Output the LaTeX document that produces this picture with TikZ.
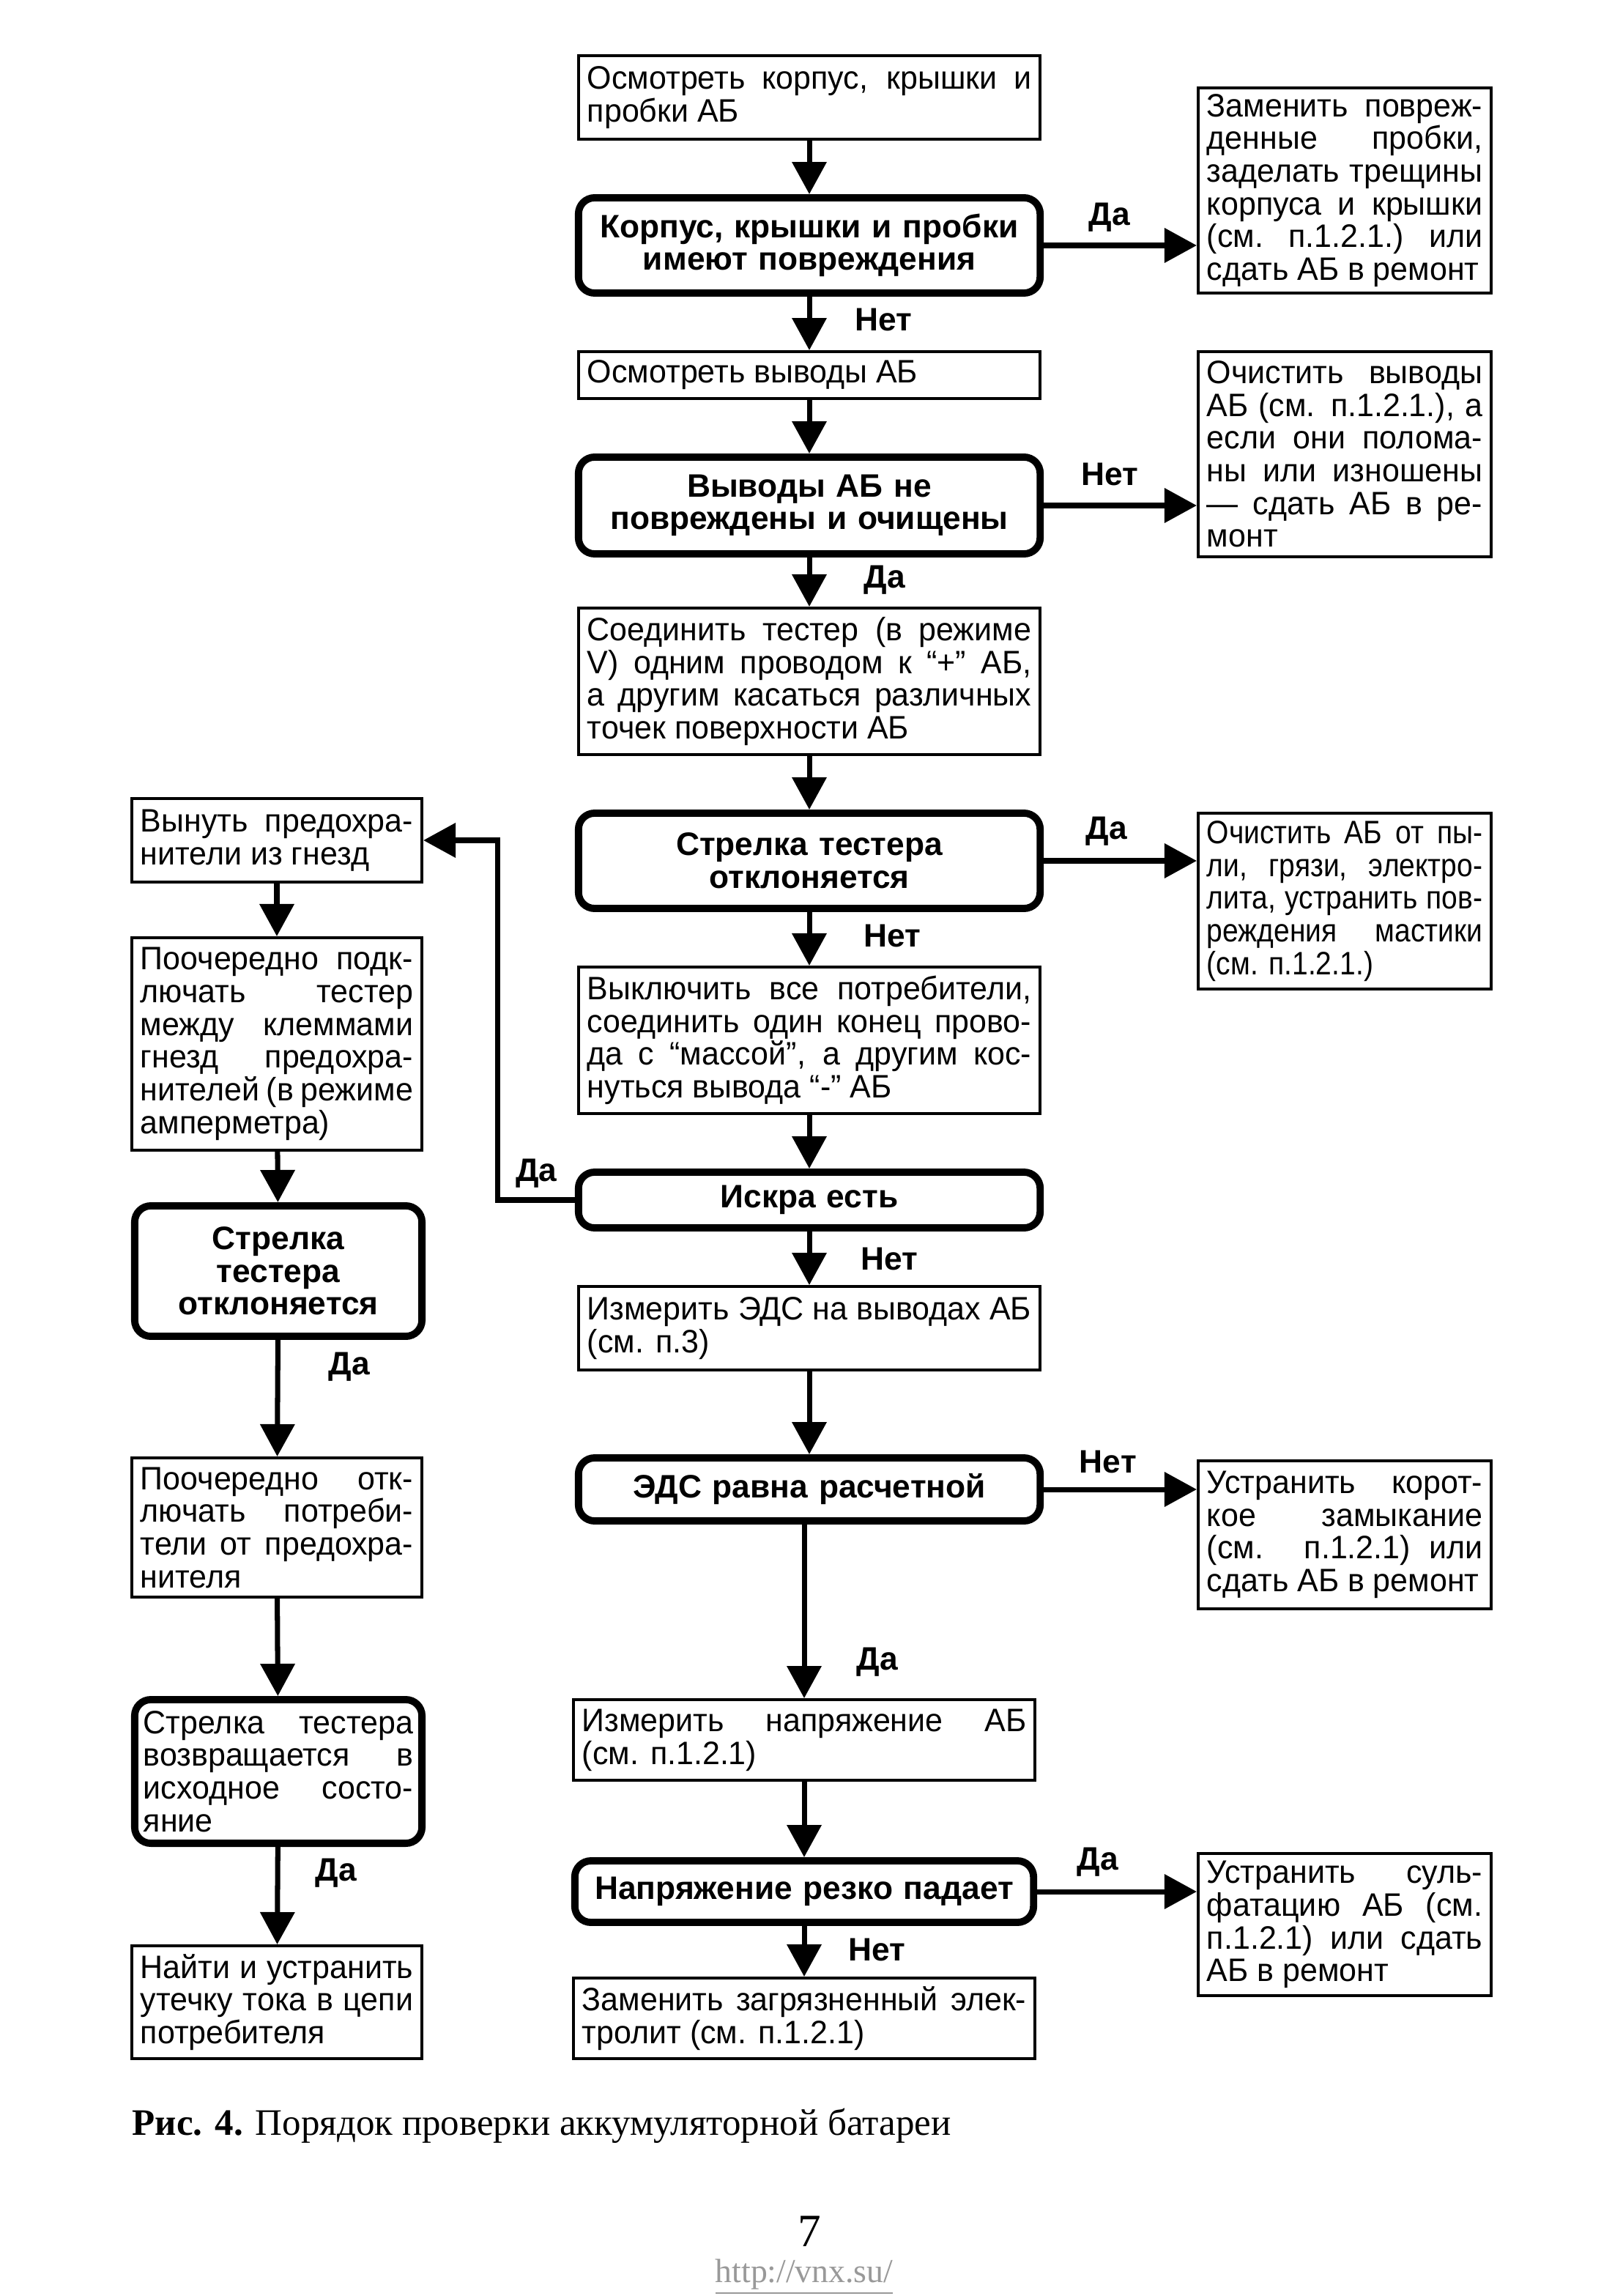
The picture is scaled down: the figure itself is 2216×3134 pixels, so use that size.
\documentclass[tikz,border=0pt]{standalone}
\usepackage{fontspec}
\setmainfont{Liberation Sans}[UprightFeatures={FakeStretch=0.97}]
\newfontfamily\narrowfont{Liberation Sans}[FakeStretch=0.88]
\newfontfamily\capfont{Liberation Serif}
\usetikzlibrary{arrows.meta}

\newcommand{\boxfont}{\fontsize{12.6}{12.7}\selectfont}

\tikzset{
  box/.style={draw, line width=1.1pt, inner xsep=0.12cm, inner ysep=0pt, align=justify, font=\boxfont},
  mainbox/.style={box, text width=6.06cm},
  sidebox/.style={box, text width=3.76cm},
  leftbox/.style={box, text width=3.72cm},
  check/.style={draw, line width=2.8pt, rounded corners=0.22cm, inner xsep=0.12cm, inner ysep=0pt, align=center, font=\boxfont\bfseries},
  arr/.style={line width=2pt, -{Triangle[length=4.4mm, width=4.6mm]}},
  lbl/.style={font=\boxfont\bfseries, inner sep=0pt}
}

\begin{document}
\begin{tikzpicture}[x=0.01cm, y=-0.01cm]
        \useasboundingbox (0,0) rectangle (2216,3134);
        \path[fill=white] (0,0) rectangle (2216,3134);

        % main column
        \node[mainbox, minimum height=1.14cm] (b1) at (1105,133) {Осмотреть корпус, крышки и\linebreak пробки АБ};
        \node[check, text width=6.06cm, minimum height=1.30cm] (d1) at (1105,335) {Корпус, крышки и пробки\\имеют повреждения};
        \node[mainbox, minimum height=0.64cm] (b2) at (1105,512) {Осмотреть выводы АБ};
        \node[check, text width=6.06cm, minimum height=1.32cm] (d2) at (1105,690) {Выводы АБ не\\повреждены и очищены};
        \node[mainbox, minimum height=2.00cm] (b3) at (1105,930) {Соединить тестер (в режиме\linebreak V) одним проводом к “+” АБ,\linebreak а другим касаться различных\linebreak точек поверхности АБ};
        \node[check, text width=6.06cm, minimum height=1.30cm] (d3) at (1105,1175) {Стрелка тестера\\отклоняется};
        \node[mainbox, minimum height=2.00cm] (b4) at (1105,1420) {Выключить все потребители,\linebreak соединить один конец прово-\linebreak да с “массой”, а другим кос-\linebreak нуться вывода “-” АБ};
        \node[check, text width=6.06cm, minimum height=0.76cm] (d4) at (1105,1638) {Искра есть};
        \node[mainbox, minimum height=1.14cm] (b5) at (1105,1813) {Измерить ЭДС на выводах АБ\linebreak (см. п.3)};
        \node[check, text width=6.06cm, minimum height=0.86cm] (d5) at (1105,2033) {ЭДС равна расчетной};
        \node[mainbox, minimum height=1.10cm] (b6) at (1098,2375) {Измерить напряжение АБ\linebreak (см. п.1.2.1)};
        \node[check, text width=6.02cm, minimum height=0.84cm] (d6) at (1098,2582) {Напряжение резко падает};
        \node[mainbox, minimum height=1.10cm] (b7) at (1098,2755) {Заменить загрязненный элек-\linebreak тролит (см. п.1.2.1)};

        % right column
        \node[sidebox, minimum height=2.80cm] (r1) at (1836,260) {Заменить повреж-\linebreak денные пробки,\linebreak заделать трещины\linebreak корпуса и крышки\linebreak (см. п.1.2.1.) или\linebreak сдать АБ в ремонт};
        \node[sidebox, minimum height=2.80cm] (r2) at (1836,620) {Очистить выводы\linebreak АБ (см. п.1.2.1.), а\linebreak если они полома-\linebreak ны или изношены\linebreak — сдать АБ в ре-\linebreak монт};
        \node[sidebox, minimum height=2.40cm, font=\boxfont\narrowfont] (r3) at (1836,1230) {Очистить АБ от пы-\linebreak ли, грязи, электро-\linebreak лита, устранить пов-\linebreak реждения мастики\linebreak (см. п.1.2.1.)};
        \node[sidebox, minimum height=2.02cm] (r5) at (1836,2095) {Устранить корот-\linebreak кое замыкание\linebreak (см. п.1.2.1) или\linebreak сдать АБ в ремонт};
        \node[sidebox, minimum height=1.94cm] (r6) at (1836,2627) {Устранить суль-\linebreak фатацию АБ (см.\linebreak п.1.2.1) или сдать\linebreak АБ в ремонт};

        % left column
        \node[leftbox, minimum height=1.14cm] (l1) at (378,1147) {Вынуть предохра-\linebreak нители из гнезд};
        \node[leftbox, minimum height=2.90cm] (l2) at (378,1425) {Поочередно подк-\linebreak лючать тестер\linebreak между клеммами\linebreak гнезд предохра-\linebreak нителей (в режиме\linebreak амперметра)};
        \node[check, text width=3.68cm, minimum height=1.78cm] (l3) at (380,1735) {Стрелка\\тестера\\отклоняется};
        \node[leftbox, minimum height=1.90cm] (l4) at (378,2085) {Поочередно отк-\linebreak лючать потреби-\linebreak тели от предохра-\linebreak нителя};
        \node[check, text width=3.68cm, minimum height=1.96cm, align=justify, font=\boxfont] (l5) at (380,2418) {Стрелка тестера\linebreak возвращается в\linebreak исходное состо-\linebreak яние};
        \node[leftbox, minimum height=1.54cm] (l6) at (378,2733) {Найти и устранить\linebreak утечку тока в цепи\linebreak потребителя};

        % connectors
        \draw[arr] (b1) -- (d1);
        \draw[arr] (d1) -- (b2) node[lbl, anchor=west, pos=.43, xshift=0.59cm] (n1) {Нет};
        \draw[arr] (b2) -- (d2);
        \draw[arr] (d2) -- (b3) node[lbl, anchor=west, pos=.46, xshift=0.71cm] (y2) {Да};
        \draw[arr] (b3) -- (d3);
        \draw[arr] (d3) -- (b4) node[lbl, anchor=west, pos=.45, xshift=0.71cm] (n3) {Нет};
        \draw[arr] (b4) -- (d4);
        \draw[arr] (d4) -- (b5) node[lbl, anchor=west, pos=.52, xshift=0.67cm] (n4) {Нет};
        \draw[arr] (b5) -- (d5);
        \draw[arr] (d5.south -| b6) -- (b6) node[lbl, anchor=west, pos=.79, xshift=0.68cm] (y5) {Да};
        \draw[arr] (b6) -- (d6);
        \draw[arr] (d6) -- (b7) node[lbl, anchor=west, pos=.47, xshift=0.57cm] (n6) {Нет};

        \draw[arr] (d1.east) -- (d1.east -| r1.west) node[lbl, anchor=base, pos=.43, yshift=0.27cm] (y1) {Да};
        \draw[arr] (d2.east) -- (d2.east -| r2.west) node[lbl, anchor=base, pos=.43, yshift=0.27cm] (n2) {Нет};
        \draw[arr] (d3.east) -- (d3.east -| r3.west) node[lbl, anchor=base, pos=.41, yshift=0.29cm] (y3) {Да};
        \draw[arr] (d5.east) -- (d5.east -| r5.west) node[lbl, anchor=base, pos=.42, yshift=0.23cm] (n5) {Нет};
        \draw[arr] (d6.east) -- (d6.east -| r6.west) node[lbl, anchor=base, pos=.38, yshift=0.30cm] (y6) {Да};

        \draw[arr] (d4.west) -- ++(-105,0) node[lbl, anchor=base, midway, yshift=0.25cm] (y4) {Да} |- (l1.east);
        \draw[arr] (l1) -- (l2);
        \draw[arr] (l2) -- (l3);
        \draw[arr] (l3) -- (l4) node[lbl, anchor=west, pos=.23, xshift=0.66cm] (y7) {Да};
        \draw[arr] (l4) -- (l5);
        \draw[arr] (l5) -- (l6) node[lbl, anchor=west, pos=.27, xshift=0.48cm] (y8) {Да};

        % caption
        \node[anchor=west, inner sep=0pt, font=\capfont\fontsize{14.5}{16}\selectfont] (caption) at (180,2902) {\textbf{Рис. 4.} Порядок проверки аккумуляторной батареи};
        \node[inner sep=0pt, font=\capfont\fontsize{18}{20}\selectfont] (pagenum) at (1105,3046) {7};
        \node[font=\capfont\fontsize{13}{15}\selectfont, text=black!40, inner sep=0pt] (url) at (1098,3108) {\underline{http://vnx.su/}};
\end{tikzpicture}
\end{document}
